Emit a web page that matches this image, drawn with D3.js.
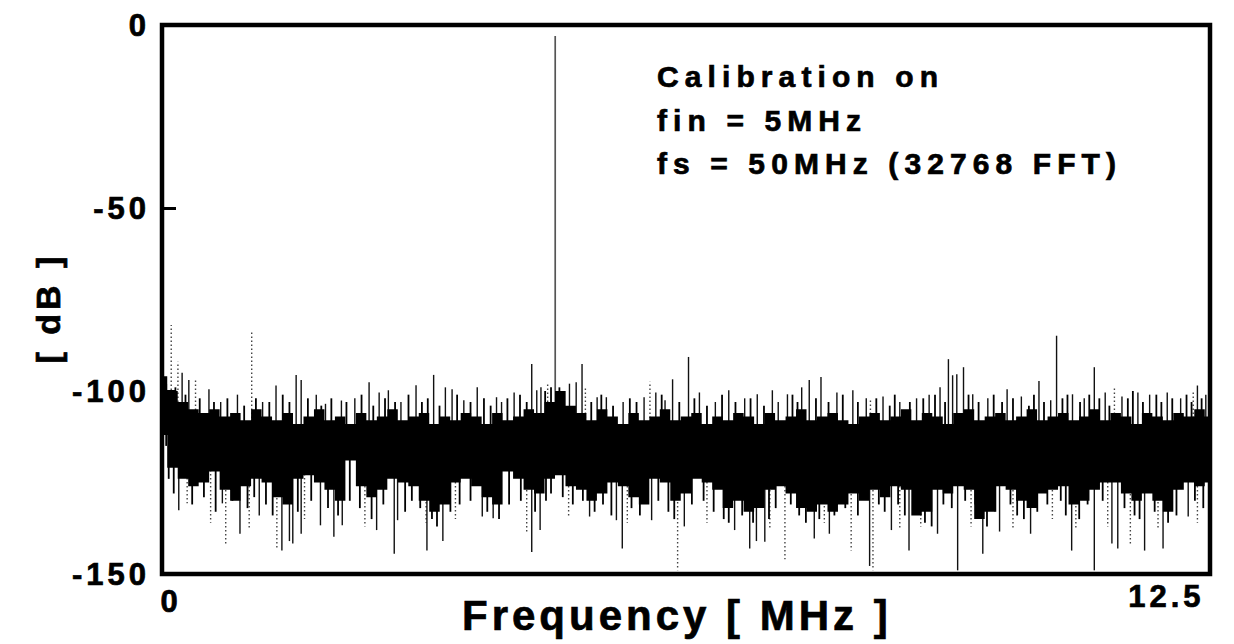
<!DOCTYPE html>
<html>
<head>
<meta charset="utf-8">
<script src="https://cdn.jsdelivr.net/npm/d3@7"></script>
<style>
  html, body { margin: 0; padding: 0; background: #fff; }
  svg { display: block; }
  text { font-family: "Liberation Sans", Arial, sans-serif; font-weight: bold; fill: #000; stroke: #000; stroke-width: 0.7px; }
</style>
</head>
<body>
<svg id="chart"></svg>
<script>
// spectrum (frequency in MHz, level in dB)
var bandStep = 0.125;
var bandTop = [-96, -100, -103, -105, -106, -105, -107, -106, -108, -105,
  -107, -108, -106, -109, -107, -105, -108, -107, -109, -106,
  -108, -107, -105, -108, -107, -106, -109, -107, -108, -106,
  -107, -109, -106, -108, -107, -105, -106, -103, -100, -104,
  -106, -108, -105, -107, -109, -106, -108, -107, -105, -108,
  -107, -106, -109, -107, -108, -106, -107, -109, -106, -108,
  -107, -105, -108, -107, -106, -108, -109, -107, -106, -108,
  -107, -105, -108, -106, -107, -109, -106, -105, -108, -107,
  -106, -108, -107, -105, -108, -107, -106, -108, -107, -105,
  -108, -106, -107, -109, -106, -107, -108, -106, -107, -105, -107];
var bandBottom = [-112, -121, -124, -126, -125, -122, -127, -130, -126, -124,
  -125, -129, -131, -124, -123, -125, -127, -130, -119, -126,
  -129, -127, -124, -125, -126, -130, -133, -131, -125, -124,
  -126, -129, -131, -122, -124, -127, -128, -124, -123, -126,
  -127, -130, -128, -125, -126, -129, -131, -124, -125, -130,
  -128, -124, -125, -127, -132, -130, -133, -132, -127, -126,
  -128, -132, -133, -131, -133, -131, -128, -130, -127, -129,
  -126, -127, -134, -133, -127, -128, -126, -127, -135, -133,
  -126, -127, -130, -132, -128, -127, -126, -131, -130, -127,
  -125, -125, -128, -130, -128, -130, -133, -127, -125, -126, -125];

var floorLevel = -115;
var tone = [4.69, -3];

var spikesUp = [[0.24, -95], [0.32, -97], [0.56, -99.5], [0.70, -103], [0.90, -101],
  [1.20, -103], [1.36, -98.5], [1.60, -95.6], [1.66, -97], [1.84, -101], [1.95, -103.5],
  [2.14, -102.6], [2.30, -102], [2.47, -97.6], [2.59, -100.4], [2.70, -99.8], [2.85, -103],
  [3.03, -98.4], [3.24, -95.6], [3.38, -99], [3.46, -99.5], [3.60, -102.5], [3.76, -99],
  [3.99, -101.7], [4.05, -103], [4.20, -100.4], [4.41, -92.6], [4.47, -99.8], [4.52, -99],
  [4.86, -98], [4.94, -97.6], [5.01, -92.6], [5.19, -101.7], [5.30, -101.7], [5.50, -103],
  [5.75, -101.7], [5.89, -100.4], [6.00, -102.5], [6.09, -96.8], [6.28, -90.7], [6.41, -100.4],
  [6.60, -103], [6.76, -99.8], [6.95, -102], [7.10, -100.9], [7.28, -99.8], [7.35, -103],
  [7.46, -100.9], [7.63, -99], [7.72, -97], [7.86, -96.2], [8.05, -100.4], [8.24, -99.8],
  [8.40, -102], [8.60, -101.5], [8.80, -103], [9.00, -102], [9.15, -101], [9.28, -99],
  [9.38, -91.3], [9.43, -95.7], [9.48, -95.4], [9.56, -93.5], [9.67, -100.9], [9.85, -102],
  [10.08, -99.5], [10.25, -101.5], [10.46, -97.3], [10.60, -102.5], [10.67, -84.9],
  [10.86, -100.9], [11.00, -102], [11.12, -93.5], [11.25, -100.4], [11.45, -101.5],
  [11.64, -100.4], [11.78, -101], [11.99, -100.4], [12.15, -102], [12.35, -98.5], [12.45, -101]];
var dottedUp = [[0.11, -82], [0.19, -92], [0.40, -97], [1.07, -84], [4.60, -98], [5.05, -99],
  [5.82, -97.5], [8.45, -102], [11.36, -99], [12.30, -100]];
var shortUp = [[0.05, -98], [0.16, -99], [0.28, -101], [0.45, -102], [0.62, -103], [0.78, -102],
  [0.98, -104], [1.12, -102], [1.28, -103], [1.44, -101], [1.52, -103], [1.74, -102], [1.90, -104],
  [2.02, -102], [2.20, -103], [2.38, -101], [2.52, -104], [2.66, -102], [2.78, -103], [2.94, -101],
  [3.10, -103], [3.17, -102], [3.31, -104], [3.52, -101], [3.68, -103], [3.84, -102], [3.92, -104],
  [4.12, -102], [4.27, -101], [4.35, -103], [4.57, -100], [4.64, -99], [4.74, -99], [4.80, -100],
  [5.12, -103], [5.24, -101], [5.38, -104], [5.58, -102], [5.66, -103], [5.96, -101], [6.17, -103],
  [6.35, -102], [6.50, -104], [6.68, -101], [6.84, -103], [7.02, -102], [7.18, -104], [7.52, -101],
  [7.58, -103], [7.80, -102], [7.95, -103], [8.12, -101], [8.30, -103], [8.52, -102], [8.68, -104],
  [8.74, -101], [8.92, -103], [9.08, -102], [9.22, -101], [9.34, -103], [9.62, -101], [9.74, -103],
  [9.92, -101], [10.02, -103], [10.15, -102], [10.34, -104], [10.40, -101], [10.52, -103],
  [10.74, -102], [10.80, -101], [10.95, -103], [11.06, -101], [11.18, -102], [11.30, -104],
  [11.52, -102], [11.58, -100], [11.70, -103], [11.86, -101], [11.92, -103], [12.05, -102],
  [12.22, -101], [12.28, -103], [12.40, -102]];

var spikesDown = [[0.20, -132.6], [0.72, -130.7], [0.93, -139], [1.16, -134], [1.43, -143.6],
  [1.52, -141], [1.56, -141.7], [1.66, -139], [1.89, -136.7], [2.05, -139.8], [2.15, -136.7],
  [2.56, -138], [2.77, -144.5], [2.81, -135.3], [3.16, -143.6], [3.35, -141], [3.82, -134.3],
  [3.95, -134.8], [4.41, -144], [4.51, -138], [5.10, -134.3], [5.42, -135.3], [5.49, -143],
  [5.84, -135.3], [6.23, -137], [6.83, -138], [7.01, -143], [7.09, -141], [7.19, -141.2],
  [7.78, -140.3], [7.96, -139], [8.44, -147.8], [8.70, -138], [8.91, -143.6], [9.25, -139],
  [9.49, -149], [9.79, -144.5], [9.99, -138.4], [10.36, -139], [10.85, -143.6], [11.12, -149],
  [11.33, -141.7], [11.40, -143], [11.72, -143.6], [11.94, -143], [12.24, -134.3]];
var dottedDown = [[0.30, -130.7], [0.76, -141.7], [1.37, -143], [3.15, -136], [4.35, -139],
  [6.15, -149], [7.43, -146], [8.22, -143.6], [8.48, -149], [9.05, -137], [10.90, -138],
  [11.55, -142], [0.58, -136], [1.04, -138], [1.70, -135], [2.42, -137], [3.50, -135],
  [4.85, -134], [5.55, -136], [6.50, -136], [7.25, -138], [7.90, -136], [8.80, -138],
  [9.65, -137], [10.15, -138], [10.62, -135], [11.28, -137], [11.88, -138], [12.35, -136]];
var shortDown = [[0.08, -124], [0.14, -128], [0.36, -131], [0.50, -129], [0.64, -133], [0.84, -130],
  [1.02, -132], [1.10, -129], [1.24, -131], [1.32, -134], [1.48, -130], [1.62, -133], [1.78, -130],
  [1.98, -132], [2.10, -134], [2.24, -130], [2.36, -132], [2.50, -135], [2.64, -131], [2.90, -133],
  [2.98, -130], [3.08, -132], [3.22, -135], [3.28, -137], [3.44, -133], [3.55, -131], [3.68, -130],
  [3.88, -133], [4.02, -135], [4.14, -131], [4.28, -130], [4.45, -133], [4.58, -130], [4.64, -128],
  [4.78, -129], [4.90, -131], [5.02, -130], [5.16, -133], [5.26, -131], [5.36, -134], [5.60, -132],
  [5.70, -134], [5.92, -130], [6.04, -133], [6.11, -135], [6.32, -131], [6.46, -130], [6.58, -133],
  [6.70, -135], [6.76, -136], [6.92, -134], [7.05, -136], [7.24, -135], [7.32, -132], [7.50, -131],
  [7.60, -134], [7.68, -136], [7.84, -135], [8.02, -134], [8.15, -132], [8.30, -134], [8.55, -131],
  [8.62, -133], [8.78, -131], [8.86, -134], [9.10, -136], [9.18, -137], [9.32, -131], [9.42, -132],
  [9.58, -130], [9.70, -131], [9.84, -137], [9.94, -133], [10.12, -131], [10.20, -134], [10.28, -135],
  [10.44, -133], [10.56, -131], [10.72, -130], [10.78, -134], [10.94, -135], [11.04, -131],
  [11.22, -130], [11.48, -132], [11.60, -134], [11.66, -135], [11.84, -133], [12.00, -136],
  [12.10, -134], [12.32, -130], [12.42, -132]];

var yTicks = [0, -50, -100, -150];
var xTicks = [0, 12.5];
var note = ["Calibration on", "fin = 5MHz", "fs = 50MHz (32768 FFT)"];

var width = 1234, height = 644;
var svg = d3.select('#chart').attr('width', width).attr('height', height);

var x = d3.scaleLinear().domain([0, 12.5]).range([162, 1210]);
var y = d3.scaleLinear().domain([-150, 0]).range([574, 25]);

svg.append('clipPath').attr('id', 'plot')
  .append('rect').attr('x', 162).attr('y', 25).attr('width', 1048).attr('height', 549);

var g = svg.append('g').attr('clip-path', 'url(#plot)');

function whiskers(data, from, cls) {
  return g.selectAll('line.' + cls)
    .data(data)
    .enter()
    .append('line')
    .attr('class', cls)
    .attr('x1', function (d) { return x(d[0]); })
    .attr('x2', function (d) { return x(d[0]); })
    .attr('y1', y(from))
    .attr('y2', function (d) { return y(d[1]); });
}

whiskers(dottedUp, floorLevel, 'dup').attr('stroke', '#444').attr('stroke-width', 1.4).attr('stroke-dasharray', '1.5,2.5');
whiskers(dottedDown, floorLevel, 'ddown').attr('stroke', '#444').attr('stroke-width', 1.4).attr('stroke-dasharray', '1.5,2.5');
whiskers(spikesUp, floorLevel, 'up').attr('stroke', '#111').attr('stroke-width', 1.4);
whiskers(spikesDown, floorLevel, 'down').attr('stroke', '#111').attr('stroke-width', 1.4);
whiskers(shortUp, floorLevel, 'sup').attr('stroke', '#000').attr('stroke-width', 1.8);
whiskers(shortDown, floorLevel, 'sdown').attr('stroke', '#000').attr('stroke-width', 1.8);
whiskers([tone], floorLevel, 'tone').attr('stroke', '#555').attr('stroke-width', 1.7);

var area = d3.area()
  .curve(d3.curveStep)
  .x(function (d, i) { return x(i * bandStep); })
  .y0(function (d, i) { return y(bandBottom[i]); })
  .y1(function (d, i) { return y(bandTop[i]); });

g.append('path')
  .datum(bandTop)
  .attr('d', area)
  .attr('fill', '#000');

// frame
svg.append('rect')
  .attr('x', 162).attr('y', 25).attr('width', 1048).attr('height', 549)
  .attr('fill', 'none').attr('stroke', '#000').attr('stroke-width', 4.5);

// y axis, ticks pointing inwards
var yAxis = svg.append('g')
  .attr('transform', 'translate(162,0)')
  .call(d3.axisLeft(y).tickValues(yTicks).tickSizeInner(-14).tickSizeOuter(0).tickPadding(12)
    .tickFormat(function (d) { return String(d); }));
yAxis.select('.domain').remove();
yAxis.selectAll('line').attr('stroke', '#000').attr('stroke-width', 3);
yAxis.selectAll('text')
  .attr('font-size', 31).attr('letter-spacing', 4)
  .attr('fill', '#000')
  .attr('dy', '0.35em');

// x axis labels
var xAxis = svg.append('g')
  .attr('transform', 'translate(0,574)')
  .call(d3.axisBottom(x).tickValues(xTicks).tickSize(0).tickPadding(14)
    .tickFormat(function (d) { return d === 0 ? '0' : '12.5'; }));
xAxis.select('.domain').remove();
xAxis.selectAll('text')
  .attr('font-size', 31).attr('letter-spacing', 4).attr('fill', '#000')
  .attr('text-anchor', function (d) { return d === 0 ? 'start' : 'end'; })
  .attr('x', function (d) { return d === 0 ? -2 : -6; })
  .attr('dy', function (d) { return d === 0 ? '0.78em' : '0.6em'; });

svg.append('text')
  .attr('x', 462).attr('y', 630)
  .attr('font-size', 42).attr('letter-spacing', 4)
  .text('Frequency [ MHz ]');

svg.append('text')
  .attr('transform', 'translate(60,308) rotate(-90)')
  .attr('text-anchor', 'middle')
  .attr('font-size', 34).attr('letter-spacing', 4)
  .text('[ dB ]');

svg.append('g').selectAll('text')
  .data(note)
  .enter()
  .append('text')
  .attr('x', 657)
  .attr('y', function (d, i) { return 87 + i * 43.5; })
  .attr('font-size', 30).attr('letter-spacing', 6.1)
  .text(function (d) { return d; });
</script>
</body>
</html>
